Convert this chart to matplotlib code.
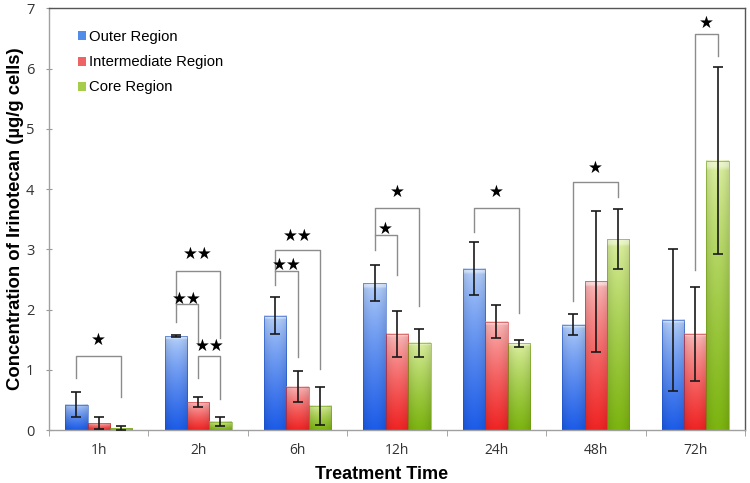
import numpy as np
import matplotlib
matplotlib.use("Agg")
import matplotlib.pyplot as plt
from matplotlib.patches import Patch, Rectangle

categories = ["1h", "2h", "6h", "12h", "24h", "48h", "72h"]
series_names = ["Outer Region", "Intermediate Region", "Core Region"]
outer = [0.42, 1.56, 1.90, 2.44, 2.68, 1.75, 1.83]
outer_err = [0.21, 0.01, 0.31, 0.30, 0.44, 0.18, 1.18]
intermediate = [0.11, 0.46, 0.72, 1.60, 1.80, 2.47, 1.60]
intermediate_err = [0.10, 0.08, 0.26, 0.38, 0.28, 1.17, 0.78]
core = [0.03, 0.14, 0.40, 1.45, 1.44, 3.17, 4.47]
core_err = [0.03, 0.07, 0.31, 0.23, 0.06, 0.50, 1.55]

# significance annotations: (group, bar_a, bar_b, top, leg_a_bottom, leg_b_bottom, star_y, label)
sig = [
    (0, 0, 2, 1.23, 0.86, 0.54, 1.50, "★"),
    (1, 0, 2, 2.64, 2.09, 1.53, 2.92, "★★"),
    (1, 0, 1, 2.09, 1.80, 1.41, 2.17, "★★"),
    (1, 1, 2, 1.23, 0.86, 0.51, 1.39, "★★"),
    (2, 0, 2, 2.99, 2.64, 1.02, 3.22, "★★"),
    (2, 0, 1, 2.64, 2.41, 1.22, 2.74, "★★"),
    (3, 0, 2, 3.68, 3.24, 2.06, 3.95, "★"),
    (3, 0, 1, 3.24, 2.99, 2.58, 3.34, "★"),
    (4, 0, 2, 3.68, 3.29, 1.95, 3.95, "★"),
    (5, 0, 2, 4.11, 2.14, 3.87, 4.35, "★"),
    (6, 1, 2, 6.58, 2.66, 6.21, 6.76, "★"),
]

light = [np.array([186, 212, 250]) / 255, np.array([252, 192, 192]) / 255, np.array([224, 242, 166]) / 255]
dark = [np.array([28, 92, 232]) / 255, np.array([240, 36, 36]) / 255, np.array([124, 180, 16]) / 255]
mid = [np.array([80, 140, 232]) / 255, np.array([238, 100, 100]) / 255, np.array([166, 204, 76]) / 255]

fig = plt.figure(figsize=(7.5, 4.83), dpi=100)
ax = fig.add_axes([0.0653, 0.1097, 0.928, 0.873])

values = [outer, intermediate, core]
errs = [outer_err, intermediate_err, core_err]
w = 0.225
x = np.arange(len(categories))

def grad_img(k, n=64):
    t = np.linspace(0, 1, n)[:, None]  # 0 top -> 1 bottom
    t = t ** 0.75
    img = light[k][None, None, :] * (1 - t[..., None]) + dark[k][None, None, :] * t[..., None]
    img = np.repeat(img, 16, axis=1)
    hx = np.linspace(-1, 1, 16)
    shade = 1 - 0.10 * hx ** 2
    img = img * shade[None, :, None]
    img[0:2] = np.clip(img[0:2] * 0.6 + 0.4, 0, 1)
    return np.clip(img, 0, 1)

for k in range(3):
    offs = (k - 1) * w
    img = grad_img(k)
    for i in range(len(categories)):
        v = values[k][i]
        x0 = x[i] + offs - w / 2
        ax.imshow(img, extent=[x0, x0 + w, 0, v], aspect="auto", zorder=2, interpolation="bilinear")
        ax.add_patch(Rectangle((x0, 0), w, v, fill=False, edgecolor=dark[k] * 0.85, linewidth=0.4, zorder=2.5))
    ax.errorbar(x + offs, values[k], yerr=errs[k], fmt="none", ecolor="#1a1a1a",
                elinewidth=1.2, capsize=3.5, capthick=1.2, zorder=4)

for (g, a, b, top, la, lb, sy, lab) in sig:
    xa = x[g] + (a - 1) * w
    xb = x[g] + (b - 1) * w
    ax.plot([xa, xa, xb, xb], [la, top, top, lb], color="#8c8c8c", linewidth=1.0, zorder=3)
    ax.text((xa + xb) / 2, sy, lab, ha="center", va="center", fontsize=12,
            family="DejaVu Sans", color="black", zorder=5)

ax.set_xlim(-0.5, len(categories) - 0.5)
ax.set_ylim(0, 7)
ax.set_yticks(range(0, 8))
ax.set_yticklabels([str(v) for v in range(0, 8)], fontsize=10.5, family="Open Sans", color="#333333")
ax.set_xticks(x)
ax.set_xticklabels(categories, fontsize=10, family="Open Sans", color="#333333")
ax.set_xticks(np.arange(-0.5, len(categories), 1.0), minor=True)
ax.tick_params(axis="x", which="major", length=0, pad=9)
ax.tick_params(axis="x", which="minor", length=4, color="#999999", direction="out")
ax.tick_params(axis="y", which="major", length=5, color="#999999", direction="inout", pad=8)

for s in ["left", "bottom"]:
    ax.spines[s].set_color("#a0a0a0")
    ax.spines[s].set_linewidth(1.0)
for s in ["top", "right"]:
    ax.spines[s].set_color("#555555")
    ax.spines[s].set_linewidth(1.0)

ax.set_xlabel("Treatment Time", fontsize=13, fontweight="bold", family="Liberation Sans")
ax.xaxis.set_label_coords((382 - 49) / 696, -0.085)
ax.set_ylabel("Concentration of Irinotecan (µg/g cells)", fontsize=13.3, fontweight="bold",
              family="Liberation Sans")
ax.yaxis.set_label_coords(-0.036, 0.5)

handles = [Patch(facecolor=mid[k], edgecolor="none") for k in range(3)]
leg = ax.legend(handles, series_names, loc="upper left", bbox_to_anchor=(0.022, 0.98), frameon=False,
                prop={"family": "Liberation Sans", "size": 10.7}, handlelength=0.55, handleheight=0.55,
                handletextpad=0.2, labelspacing=0.75)

fig.savefig("out.png", dpi=100)
